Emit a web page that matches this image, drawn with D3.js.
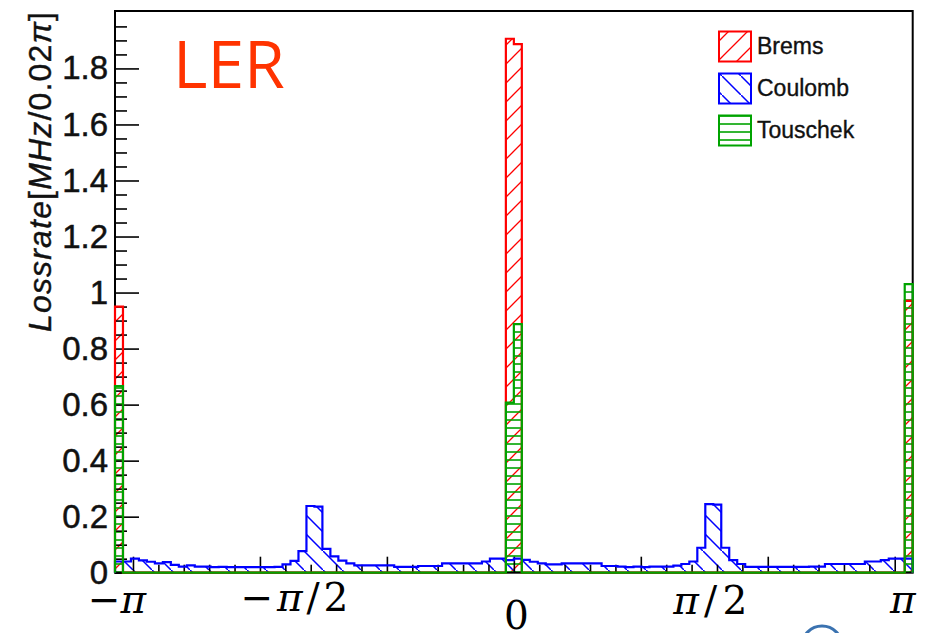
<!DOCTYPE html>
<html><head><meta charset="utf-8">
<script src="https://cdn.jsdelivr.net/npm/d3@7"></script>
<style>body{margin:0;background:#fff;overflow:hidden}</style>
</head><body>
<svg id="chart" width="936" height="633"></svg>
<script>
// ---------------- data ----------------
const nBins = 100;
const phiMin = -Math.PI, phiMax = Math.PI;
const seriesNames = ["Brems", "Coulomb", "Touschek"];
const seriesColors = ["#ff0000", "#0000ff", "#00a300"];

const brems = [
  0.950, 0, 0, 0, 0, 0, 0, 0, 0, 0,
  0, 0, 0, 0, 0, 0, 0, 0, 0, 0,
  0, 0, 0, 0, 0, 0, 0, 0, 0, 0,
  0, 0, 0, 0, 0, 0, 0, 0, 0, 0,
  0, 0, 0, 0, 0, 0, 0, 0, 0, 1.906,
  1.887, 0, 0, 0, 0, 0, 0, 0, 0, 0,
  0, 0, 0, 0, 0, 0, 0, 0, 0, 0,
  0, 0, 0, 0, 0, 0, 0, 0, 0, 0,
  0, 0, 0, 0, 0, 0, 0, 0, 0, 0,
  0, 0, 0, 0, 0, 0, 0, 0, 0, 0.970
];
const coulomb = [
  0.040, 0.040, 0.050, 0.044, 0.039, 0.033, 0.038, 0.028, 0.022, 0.026,
  0.022, 0.022, 0.020, 0.021, 0.020, 0.020, 0.020, 0.020, 0.020, 0.020,
  0.021, 0.030, 0.042, 0.077, 0.238, 0.236, 0.085, 0.058, 0.043, 0.033,
  0.026, 0.026, 0.026, 0.026, 0.026, 0.021, 0.021, 0.021, 0.024, 0.024,
  0.024, 0.033, 0.033, 0.033, 0.033, 0.033, 0.040, 0.050, 0.050, 0.045,
  0.050, 0.046, 0.039, 0.033, 0.030, 0.030, 0.033, 0.033, 0.033, 0.033,
  0.033, 0.024, 0.024, 0.022, 0.020, 0.022, 0.020, 0.022, 0.022, 0.022,
  0.025, 0.031, 0.040, 0.089, 0.245, 0.243, 0.089, 0.045, 0.031, 0.021,
  0.021, 0.021, 0.021, 0.021, 0.021, 0.021, 0.021, 0.022, 0.022, 0.031,
  0.031, 0.031, 0.031, 0.031, 0.040, 0.040, 0.045, 0.050, 0.050, 0.050
];
const touschek = [
  0.666, 0, 0, 0, 0, 0, 0, 0, 0, 0,
  0, 0, 0, 0, 0, 0, 0, 0, 0, 0,
  0, 0, 0, 0, 0, 0, 0, 0, 0, 0,
  0, 0, 0, 0, 0, 0, 0, 0, 0, 0,
  0, 0, 0, 0, 0, 0, 0, 0, 0, 0.607,
  0.887, 0, 0, 0, 0, 0, 0, 0, 0, 0,
  0, 0, 0, 0, 0, 0, 0, 0, 0, 0,
  0, 0, 0, 0, 0, 0, 0, 0, 0, 0,
  0, 0, 0, 0, 0, 0, 0, 0, 0, 0,
  0, 0, 0, 0, 0, 0, 0, 0, 0, 1.030
];

const yMax = 2.005;
const yMajorTicks = [0, 0.2, 0.4, 0.6, 0.8, 1.0, 1.2, 1.4, 1.6, 1.8];
const yTickLabels = ["0", "0.2", "0.4", "0.6", "0.8", "1", "1.2", "1.4", "1.6", "1.8"];
const xMajorTicks = [-3, -2, -1, 0, 1, 2, 3];
const xLabelValues = [-Math.PI, -Math.PI / 2, 0, Math.PI / 2, Math.PI];
const xLabelTexts = ["−π", "−π/2", "0", "π/2", "π"];
const yTitle = ["Lossrate", "[", "MHz", "/0.02", "π", "]"];
const panelLabel = "LER";

// ---------------- layout ----------------
const W = 936, H = 633;
const m = {left: 115, right: 23.3, top: 11, bottom: 60.3};
const svg = d3.select("#chart");
const x = d3.scaleLinear().domain([phiMin, phiMax]).range([m.left, W - m.right]);
const y = d3.scaleLinear().domain([0, yMax]).range([H - m.bottom, m.top]);
const edges = d3.range(nBins + 1).map(i => phiMin + (phiMax - phiMin) * i / nBins);

// ---------------- hatch patterns ----------------
const defs = svg.append("defs");
const P = 19;
function pat(id, color, d, w, h, sw) {
  defs.append("pattern").attr("id", id).attr("patternUnits", "userSpaceOnUse")
    .attr("width", w).attr("height", h)
    .append("path").attr("d", d).attr("stroke", color).attr("stroke-width", sw).attr("fill", "none");
}
pat("h0", seriesColors[0], `M-2,2 L2,-2 M0,${P} L${P},0 M${P-2},${P+2} L${P+2},${P-2}`, P, P, 1.3);
pat("h1", seriesColors[1], `M-2,-2 L2,2 M0,0 L${P},${P} M${P-2},${P-2} L${P+2},${P+2}`, P, P, 1.5);
pat("h2", seriesColors[2], `M0,4 L10,4`, 10, 8, 1.6);

// ---------------- frame & axes ----------------
const plot = svg.append("g");

function stepPoints(vals) {
  const pts = [[x(edges[0]), y(0)]];
  vals.forEach((v, i) => { pts.push([x(edges[i]), y(v)]); pts.push([x(edges[i + 1]), y(v)]); });
  pts.push([x(edges[nBins]), y(0)]);
  return pts;
}
const line = d3.line();

// Y axis ticks (inside), labels
const yMinor = d3.range(0, 40).map(i => +(i * 0.05).toFixed(2)).filter(v => v <= yMax && Math.round(v * 100) % 20 !== 0);
svg.append("g").attr("transform", `translate(${m.left},0)`)
  .call(d3.axisRight(y).tickValues(yMinor).tickSize(12).tickFormat(""))
  .call(g => g.select(".domain").remove())
  .call(g => g.selectAll("line").attr("stroke", "#000").attr("stroke-width", 1.6));
svg.append("g").attr("transform", `translate(${m.left},0)`)
  .call(d3.axisRight(y).tickValues(yMajorTicks).tickSize(24).tickFormat(""))
  .call(g => g.select(".domain").remove())
  .call(g => g.selectAll("line").attr("stroke", "#000").attr("stroke-width", 1.6));
svg.append("g").attr("transform", `translate(${m.left},0)`)
  .call(d3.axisLeft(y).tickValues(yMajorTicks).tickSize(0).tickPadding(7)
    .tickFormat((d, i) => yTickLabels[i]))
  .call(g => g.select(".domain").remove())
  .call(g => g.selectAll("text").attr("font-family", "Liberation Sans, Arial, sans-serif")
    .attr("font-size", 33).attr("fill", "#111").attr("stroke", "#111").attr("stroke-width", 0.5));

// X axis ticks (upward from bottom)
const xMinor = d3.range(-15, 16).map(i => +(i * 0.2).toFixed(1)).filter(v => Math.abs(v - Math.round(v)) > 1e-6);
svg.append("g").attr("transform", `translate(0,${y(0)})`)
  .call(d3.axisTop(x).tickValues(xMinor).tickSize(8).tickFormat(""))
  .call(g => g.select(".domain").remove())
  .call(g => g.selectAll("line").attr("stroke", "#000").attr("stroke-width", 1.6));
svg.append("g").attr("transform", `translate(0,${y(0)})`)
  .call(d3.axisTop(x).tickValues(xMajorTicks).tickSize(16).tickFormat(""))
  .call(g => g.select(".domain").remove())
  .call(g => g.selectAll("line").attr("stroke", "#000").attr("stroke-width", 1.6));

// frame
svg.append("rect").attr("x", x(phiMin)).attr("y", y(yMax))
  .attr("width", x(phiMax) - x(phiMin)).attr("height", y(0) - y(yMax))
  .attr("fill", "none").attr("stroke", "#000").attr("stroke-width", 2);

// ---------------- histograms ----------------
[brems, coulomb, touschek].forEach((vals, k) => {
  const pts = stepPoints(vals);
  plot.append("path").attr("d", line(pts) + "Z").attr("fill", `url(#h${k})`).attr("stroke", "none");
});
[brems, coulomb, touschek].forEach((vals, k) => {
  const pts = stepPoints(vals);
  svg.append("path").attr("d", line(pts)).attr("fill", "none")
    .attr("stroke", seriesColors[k]).attr("stroke-width", 2.2).attr("stroke-linejoin", "miter");
});

// ---------------- legend ----------------
const lg = svg.append("g");
const legendRows = [31.5, 73.5, 115.5];
seriesNames.forEach((name, k) => {
  lg.append("rect").attr("x", 719).attr("y", legendRows[k]).attr("width", 32).attr("height", 30)
    .attr("fill", `url(#h${k})`).attr("stroke", seriesColors[k]).attr("stroke-width", 2);
  lg.append("text").attr("x", 757).attr("y", legendRows[k] + 22).text(name)
    .attr("font-family", "Liberation Sans, Arial, sans-serif").attr("font-size", 23)
    .attr("fill", "#111").attr("stroke", "#111").attr("stroke-width", 0.35);
});

// ---------------- y title ----------------
const yt = svg.append("text").attr("transform", `translate(51,12) rotate(-90)`)
  .attr("text-anchor", "end").attr("font-family", "Liberation Sans, Arial, sans-serif")
  .attr("font-size", 32).attr("fill", "#111").attr("stroke", "#111").attr("stroke-width", 0.4)
  .attr("textLength", 320).attr("lengthAdjust", "spacing");
yTitle.forEach((t, i) => {
  yt.append("tspan").text(t).attr("font-style", (i === 0 || i === 2 || i === 4) ? "italic" : "normal");
});

// ---------------- panel label ----------------
svg.append("text").attr("x", 173).attr("y", 88).text(panelLabel)
  .attr("font-family", "Open Sans, Lato, sans-serif").attr("font-size", 66).attr("fill", "#ff3300");

// ---------------- custom x labels ----------------
const labelShift = {"−π": 2, "−π/2": -20, "0": 2.5, "π/2": -3, "π": -10};
const labelBase  = {"−π": 613, "−π/2": 611, "0": 629, "π/2": 614, "π": 613};
const labelWidth = {"−π/2": 108, "π/2": 74};
const xl = svg.append("g").attr("font-family", "DejaVu Serif, Liberation Serif, serif")
  .attr("font-size", 39).attr("fill", "#000").attr("text-anchor", "middle");
xLabelValues.forEach((v, i) => {
  const t = xLabelTexts[i];
  const txt = xl.append("text").attr("x", x(v) + labelShift[t]).attr("y", labelBase[t]);
  if (labelWidth[t]) txt.attr("textLength", labelWidth[t]).attr("lengthAdjust", "spacing");
  Array.from(t).forEach(ch => {
    txt.append("tspan").text(ch).attr("font-style", ch === "π" ? "italic" : "normal");
  });
});

// decorative partial circle at the bottom edge
svg.append("circle").attr("cx", 822).attr("cy", 646).attr("r", 20)
  .attr("fill", "none").attr("stroke", "#3a72b0").attr("stroke-width", 3);
</script>
</body></html>
